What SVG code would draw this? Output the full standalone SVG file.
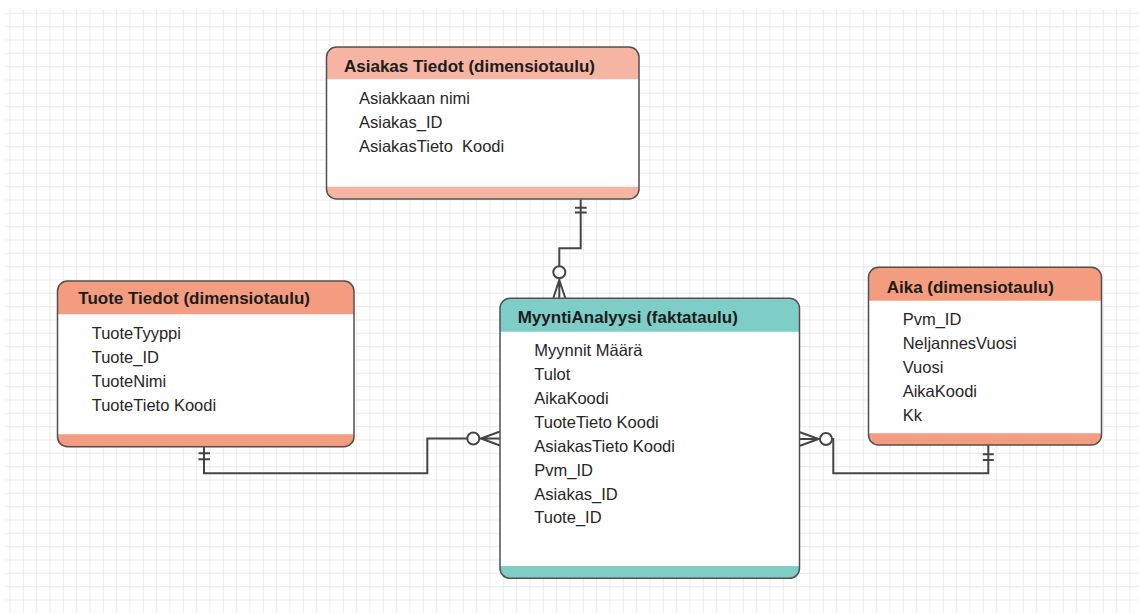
<svg xmlns="http://www.w3.org/2000/svg" width="1139" height="613" viewBox="0 0 1139 613">
  <defs>
    <pattern id="grid" x="9.5" y="12.83" width="13.333" height="13.333" patternUnits="userSpaceOnUse">
      <rect x="0" y="0" width="1" height="13.333" fill="#ebebeb"/>
      <rect x="0" y="0" width="13.333" height="1" fill="#ebebeb"/>
    </pattern>
    <style>
      .frame { fill: none; stroke: #505050; stroke-width: 1.5; }
      .body { fill: #ffffff; }
      .title { font-family: "Liberation Sans", Arial, sans-serif; font-size: 17px; font-weight: bold; fill: #1c1c1c; }
      .field { font-family: "Liberation Sans", Arial, sans-serif; font-size: 16.5px; fill: #262626; }
      .salmon-light { fill: #f6b4a2; }
      .salmon { fill: #f49c7f; }
      .teal { fill: #7fcdc7; }
      .link { fill: none; stroke: #454545; stroke-width: 2; }
      .end { fill: #ffffff; stroke: #454545; stroke-width: 2; }
    </style>
  </defs>

  <!-- background grid -->
  <rect width="1139" height="613" fill="#ffffff"/>
  <rect x="5" y="10" width="1134" height="603" fill="url(#grid)"/>

  <!-- connectors -->
  <g id="connectors">
    <!-- AsiakasTiedot to MyyntiAnalyysi -->
    <path class="link" d="M580.7 199.5 V248.3 H559.3 V266.3"/>
    <path class="link" d="M575 207.7 H586.7 M575 212.5 H586.7"/>
    <circle class="end" cx="559.3" cy="272.3" r="6"/>
    <path class="link" d="M559.3 278.3 V298 M559.3 280 L553.3 298 M559.3 280 L565.3 298"/>

    <!-- TuoteTiedot to MyyntiAnalyysi -->
    <path class="link" d="M204 446.7 V473.3 H427.3 V438.5 H467.3"/>
    <path class="link" d="M198.5 453.3 H210 M198.5 459.3 H210"/>
    <circle class="end" cx="473.3" cy="438.5" r="6"/>
    <path class="link" d="M479.3 438.5 H500 M481 438.5 L500 431.5 M481 438.5 L500 445.5"/>

    <!-- Aika to MyyntiAnalyysi -->
    <path class="link" d="M988.3 445 V473.3 H833.3 V439 H832"/>
    <path class="link" d="M982.8 454.3 H993.8 M982.8 460 H993.8"/>
    <circle class="end" cx="826" cy="439" r="6"/>
    <path class="link" d="M820 439 H800 M818.5 439 L800 432.3 M818.5 439 L800 445.7"/>
  </g>

  <!-- AsiakasTiedot -->
  <g id="asiakastiedot">
    <rect class="body" x="326.5" y="47" width="312.5" height="152" rx="10"/>
    <path class="salmon-light" d="M326.5 79.3 V57 A10 10 0 0 1 336.5 47 H629 A10 10 0 0 1 639 57 V79.3 Z"/>
    <path class="salmon-light" d="M326.5 186.7 V189 A10 10 0 0 0 336.5 199 H629 A10 10 0 0 0 639 189 V186.7 Z"/>
    <rect class="frame" x="326.5" y="47" width="312.5" height="152" rx="10"/>
    <text class="title" x="344" y="71.5">Asiakas Tiedot (dimensiotaulu)</text>
    <text class="field" x="359" y="104.3">Asiakkaan nimi</text>
    <text class="field" x="359" y="128.3">Asiakas_ID</text>
    <text class="field" x="359" y="152" xml:space="preserve">AsiakasTieto  Koodi</text>
  </g>

  <!-- TuoteTiedot -->
  <g id="tuotetiedot">
    <rect class="body" x="57.5" y="281" width="296.5" height="165.7" rx="10"/>
    <path class="salmon" d="M57.5 314.3 V291 A10 10 0 0 1 67.5 281 H344 A10 10 0 0 1 354 291 V314.3 Z"/>
    <path class="salmon" d="M57.5 434.3 V436.7 A10 10 0 0 0 67.5 446.7 H344 A10 10 0 0 0 354 436.7 V434.3 Z"/>
    <rect class="frame" x="57.5" y="281" width="296.5" height="165.7" rx="10"/>
    <text class="title" x="78.3" y="303.5">Tuote Tiedot (dimensiotaulu)</text>
    <text class="field" x="91.7" y="339">TuoteTyyppi</text>
    <text class="field" x="91.7" y="363">Tuote_ID</text>
    <text class="field" x="91.7" y="386.7">TuoteNimi</text>
    <text class="field" x="91.7" y="410.5">TuoteTieto Koodi</text>
  </g>

  <!-- MyyntiAnalyysi -->
  <g id="myyntianalyysi">
    <rect class="body" x="500" y="298.3" width="299.5" height="280" rx="10"/>
    <path class="teal" d="M500 331.7 V308.3 A10 10 0 0 1 510 298.3 H789.5 A10 10 0 0 1 799.5 308.3 V331.7 Z"/>
    <path class="teal" d="M500 566 V568.3 A10 10 0 0 0 510 578.3 H789.5 A10 10 0 0 0 799.5 568.3 V566 Z"/>
    <rect class="frame" x="500" y="298.3" width="299.5" height="280" rx="10"/>
    <text class="title" x="517.7" y="322.7">MyyntiAnalyysi (faktataulu)</text>
    <text class="field" x="534.3" y="355.7">Myynnit Määrä</text>
    <text class="field" x="534.3" y="379.7">Tulot</text>
    <text class="field" x="534.3" y="403.5">AikaKoodi</text>
    <text class="field" x="534.3" y="427.7">TuoteTieto Koodi</text>
    <text class="field" x="534.3" y="451.7">AsiakasTieto Koodi</text>
    <text class="field" x="534.3" y="475.5">Pvm_ID</text>
    <text class="field" x="534.3" y="499.5">Asiakas_ID</text>
    <text class="field" x="534.3" y="523.3">Tuote_ID</text>
  </g>

  <!-- Aika -->
  <g id="aika">
    <rect class="body" x="868.5" y="267.3" width="233" height="177.7" rx="10"/>
    <path class="salmon" d="M868.5 300.7 V277.3 A10 10 0 0 1 878.5 267.3 H1091.5 A10 10 0 0 1 1101.5 277.3 V300.7 Z"/>
    <path class="salmon" d="M868.5 433.3 V435 A10 10 0 0 0 878.5 445 H1091.5 A10 10 0 0 0 1101.5 435 V433.3 Z"/>
    <rect class="frame" x="868.5" y="267.3" width="233" height="177.7" rx="10"/>
    <text class="title" x="886.7" y="292.7">Aika (dimensiotaulu)</text>
    <text class="field" x="902.7" y="325">Pvm_ID</text>
    <text class="field" x="902.7" y="349">NeljannesVuosi</text>
    <text class="field" x="902.7" y="373">Vuosi</text>
    <text class="field" x="902.7" y="396.7">AikaKoodi</text>
    <text class="field" x="902.7" y="420.5">Kk</text>
  </g>
</svg>
